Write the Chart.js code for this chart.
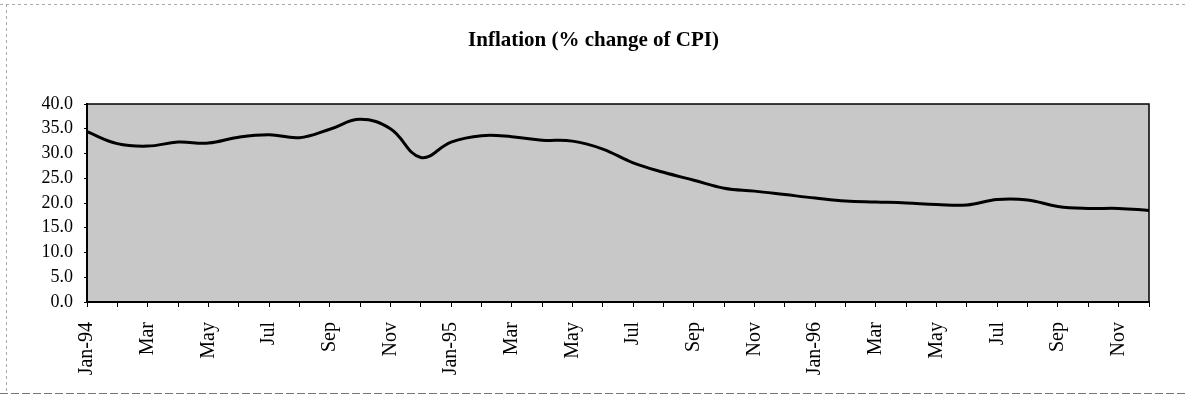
<!DOCTYPE html>
<html>
<head>
<meta charset="utf-8">
<script src="https://cdn.jsdelivr.net/npm/chart.js@4.4.0/dist/chart.umd.min.js"></script>
<style>
    html, body { margin: 0; padding: 0; background: #fff; }
    #wrap { width: 1188px; height: 401px; position: relative; }
</style>
</head>
<body>
<div id="wrap"><canvas id="cpiChart"></canvas></div>
<script>
// Monthly CPI inflation, Jan-94 .. Dec-96
const months = [
    'Jan-94', 'Feb', 'Mar', 'Apr', 'May', 'Jun', 'Jul', 'Aug', 'Sep', 'Oct', 'Nov', 'Dec',
    'Jan-95', 'Feb', 'Mar', 'Apr', 'May', 'Jun', 'Jul', 'Aug', 'Sep', 'Oct', 'Nov', 'Dec',
    'Jan-96', 'Feb', 'Mar', 'Apr', 'May', 'Jun', 'Jul', 'Aug', 'Sep', 'Oct', 'Nov', 'Dec'
];
const inflation = [
    34.4, 32.0, 31.5, 32.3, 32.1, 33.3, 33.8, 33.2, 34.9, 36.9, 35.0, 29.2,
    32.3, 33.6, 33.4, 32.7, 32.5, 30.9, 28.1, 26.2, 24.6, 23.0, 22.4, 21.7,
    21.0, 20.4, 20.2, 20.0, 19.7, 19.6, 20.7, 20.6, 19.3, 18.9, 18.9, 18.5
];
const yTicks = [0, 5, 10, 15, 20, 25, 30, 35, 40];

const serif = '"Liberation Serif", "Times New Roman", serif';

// grey plot area, frame around it, faint scan border round the page
const plotFrame = {
    id: 'plotFrame',
    beforeDraw(chart) {
        const { ctx, chartArea: a } = chart;
        ctx.save();
        ctx.fillStyle = '#c8c8c8';
        ctx.fillRect(a.left, a.top, a.right - a.left, a.bottom - a.top);

        ctx.strokeStyle = '#aaa';
        ctx.lineWidth = 1;
        ctx.setLineDash([3, 3]);
        ctx.beginPath();
        ctx.moveTo(0, 4.5); ctx.lineTo(1188, 4.5);
        ctx.moveTo(6.5, 4); ctx.lineTo(6.5, 393);
        ctx.stroke();
        ctx.strokeStyle = '#777';
        ctx.setLineDash([8, 3]);
        ctx.beginPath();
        ctx.moveTo(0, 393.5); ctx.lineTo(1188, 393.5);
        ctx.stroke();
        ctx.restore();
    },
    afterDatasetsDraw(chart) {
        const { ctx, chartArea: a } = chart;
        ctx.save();
        ctx.strokeStyle = '#000';
        ctx.lineWidth = 1.5;
        ctx.strokeRect(a.left, a.top, a.right - a.left, a.bottom - a.top);
        ctx.restore();
    }
};

new Chart(document.getElementById('cpiChart'), {
    type: 'line',
    data: {
        labels: months,
        datasets: [{
            label: 'Inflation',
            data: inflation,
            borderColor: '#000',
            borderWidth: 3,
            pointRadius: 0,
            tension: 0.4,
            fill: false
        }]
    },
    options: {
        responsive: true,
        maintainAspectRatio: false,
        animation: false,
        layout: { padding: { left: 36, right: 37, top: 0, bottom: 0 } },
        plugins: {
            legend: { display: false },
            tooltip: { enabled: false },
            title: {
                display: true,
                text: 'Inflation (% change of CPI)',
                color: '#000',
                font: { family: serif, size: 21, weight: 'bold' },
                padding: { top: 28, bottom: 50.8 }
            }
        },
        scales: {
            x: {
                offset: false,
                grid: { drawOnChartArea: false, drawTicks: true, tickLength: 5, color: '#000', lineWidth: 1 },
                border: { color: '#000', width: 2 },
                ticks: {
                    autoSkip: false,
                    maxRotation: 90,
                    minRotation: 90,
                    padding: 15,
                    color: '#000',
                    font: { family: serif, size: 20 },
                    callback: (v, i) => (i % 2 === 0 ? months[i] : '')
                },
                afterFit: (scale) => { scale.height = 99; }
            },
            y: {
                min: 0,
                max: 40,
                afterBuildTicks: (scale) => { scale.ticks = yTicks.map(v => ({ value: v })); },
                grid: { drawOnChartArea: false, drawTicks: true, tickLength: 3, color: '#000' },
                border: { color: '#000', width: 2 },
                ticks: {
                    padding: 11,
                    color: '#000',
                    font: { family: serif, size: 18 },
                    callback: (v) => Number(v).toFixed(1)
                },
                afterFit: (scale) => { scale.width = 51; }
            }
        }
    },
    plugins: [plotFrame]
});
</script>
</body>
</html>
